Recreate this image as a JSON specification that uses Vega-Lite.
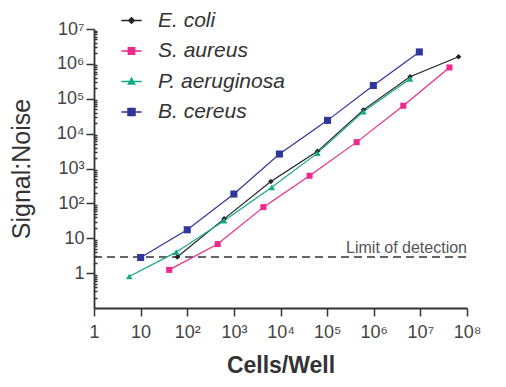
{
  "$schema": "https://vega.github.io/schema/vega-lite/v6.json",
  "width": 373,
  "height": 279,
  "autosize": {"type": "none"},
  "padding": {"left": 94, "top": 29, "right": 39, "bottom": 79},
  "background": "white",
  "config": {
    "view": {"stroke": null},
    "font": "Liberation Sans",
    "axis": {"grid": false},
    "axisX": {
      "titleFont": "Liberation Sans", "titleFontSize": 23, "titleFontWeight": "bold", "titleColor": "#333333", "titlePadding": 13,
      "labelFont": "Liberation Sans", "labelFontSize": 18, "labelColor": "#444444", "labelPadding": 7, "labelFlush": false, "labelOverlap": false,
      "tickSize": 8, "tickColor": "#333333", "tickWidth": 1.5,
      "domainColor": "#333333", "domainWidth": 1.8
    },
    "axisY": {
      "titleFont": "Liberation Sans", "titleFontSize": 25, "titleFontWeight": "normal", "titleColor": "#333333", "titlePadding": 22,
      "labelFont": "Liberation Sans", "labelFontSize": 18, "labelColor": "#444444", "labelPadding": 2, "labelFlush": false, "labelOverlap": false,
      "tickColor": "#333333", "tickWidth": 1.5,
      "domainColor": "#333333", "domainWidth": 1.8
    }
  },
  "datasets": {
    "main": [
      {"series": "E. coli", "cells": 61, "sn": 2.9},
      {"series": "E. coli", "cells": 617, "sn": 36},
      {"series": "E. coli", "cells": 6200, "sn": 425},
      {"series": "E. coli", "cells": 62000, "sn": 3100},
      {"series": "E. coli", "cells": 600000, "sn": 48000},
      {"series": "E. coli", "cells": 6000000, "sn": 430000},
      {"series": "E. coli", "cells": 66000000, "sn": 1600000},
      {"series": "S. aureus", "cells": 41, "sn": 1.24},
      {"series": "S. aureus", "cells": 450, "sn": 6.8},
      {"series": "S. aureus", "cells": 4300, "sn": 78},
      {"series": "S. aureus", "cells": 42000, "sn": 620},
      {"series": "S. aureus", "cells": 430000, "sn": 5700},
      {"series": "S. aureus", "cells": 4300000, "sn": 63000},
      {"series": "S. aureus", "cells": 42000000, "sn": 790000},
      {"series": "P. aeruginosa", "cells": 5.7, "sn": 0.8},
      {"series": "P. aeruginosa", "cells": 58, "sn": 4.0},
      {"series": "P. aeruginosa", "cells": 617, "sn": 32},
      {"series": "P. aeruginosa", "cells": 6500, "sn": 288},
      {"series": "P. aeruginosa", "cells": 62000, "sn": 2760},
      {"series": "P. aeruginosa", "cells": 600000, "sn": 43000},
      {"series": "P. aeruginosa", "cells": 6000000, "sn": 370000},
      {"series": "B. cereus", "cells": 10, "sn": 2.8},
      {"series": "B. cereus", "cells": 100, "sn": 17.5},
      {"series": "B. cereus", "cells": 1000, "sn": 185},
      {"series": "B. cereus", "cells": 9500, "sn": 2600},
      {"series": "B. cereus", "cells": 102000, "sn": 24000},
      {"series": "B. cereus", "cells": 980000, "sn": 240000},
      {"series": "B. cereus", "cells": 9500000, "sn": 2200000}
    ],
    "limit": [
      {"cells": 1, "cells_end": 100000000, "sn": 2.9, "label": "Limit of detection"}
    ]
  },
  "layer": [
    {
      "data": {"name": "limit"},
      "mark": {"type": "rule", "color": "#333333", "strokeWidth": 1.5, "strokeDash": [8, 5]},
      "encoding": {
        "x": {
          "field": "cells", "type": "quantitative",
          "scale": {"type": "log", "domain": [1, 100000000], "nice": false},
          "axis": {
            "values": [1, 10, 100, 1000, 10000, 100000, 1000000, 10000000, 100000000],
            "labelExpr": "datum.value < 2 ? '1' : datum.value < 20 ? '10' : '10' + ['','','²','³','⁴','⁵','⁶','⁷','⁸'][round(log(datum.value)/LN10)]",
            "title": "Cells/Well"
          }
        },
        "x2": {"field": "cells_end"},
        "y": {
          "field": "sn", "type": "quantitative",
          "scale": {"type": "log", "domain": [0.1, 10000000], "nice": false},
          "axis": {
            "values": [1, 10, 100, 1000, 10000, 100000, 1000000, 10000000, 0.2, 0.3, 0.4, 0.5, 0.6, 0.7, 0.8, 0.9, 2, 3, 4, 5, 6, 7, 8, 9, 20, 30, 40, 50, 60, 70, 80, 90, 200, 300, 400, 500, 600, 700, 800, 900, 2000, 3000, 4000, 5000, 6000, 7000, 8000, 9000, 20000, 30000, 40000, 50000, 60000, 70000, 80000, 90000, 200000, 300000, 400000, 500000, 600000, 700000, 800000, 900000, 2000000, 3000000, 4000000, 5000000, 6000000, 7000000, 8000000, 9000000],
            "labelExpr": "abs(log(datum.value)/LN10 - round(log(datum.value)/LN10)) > 0.01 ? '' : datum.value < 2 ? '1' : datum.value < 20 ? '10' : '10' + ['','','²','³','⁴','⁵','⁶','⁷','⁸'][round(log(datum.value)/LN10)]",
            "title": "Signal:Noise",
            "tickSize": {"condition": {"test": "abs(log(datum.value)/LN10 - round(log(datum.value)/LN10)) > 0.01", "value": -3}, "value": 8}
          }
        }
      }
    },
    {
      "data": {"name": "limit"},
      "mark": {"type": "text", "align": "right", "baseline": "alphabetic", "dy": -4, "font": "Liberation Sans", "fontSize": 16, "color": "#555555"},
      "encoding": {
        "x": {
          "field": "cells_end", "type": "quantitative",
          "scale": {"type": "log", "domain": [1, 100000000], "nice": false},
          "axis": {
            "values": [1, 10, 100, 1000, 10000, 100000, 1000000, 10000000, 100000000],
            "labelExpr": "datum.value < 2 ? '1' : datum.value < 20 ? '10' : '10' + ['','','²','³','⁴','⁵','⁶','⁷','⁸'][round(log(datum.value)/LN10)]",
            "title": "Cells/Well"
          }
        },
        "y": {
          "field": "sn", "type": "quantitative",
          "scale": {"type": "log", "domain": [0.1, 10000000], "nice": false},
          "axis": {
            "values": [1, 10, 100, 1000, 10000, 100000, 1000000, 10000000, 0.2, 0.3, 0.4, 0.5, 0.6, 0.7, 0.8, 0.9, 2, 3, 4, 5, 6, 7, 8, 9, 20, 30, 40, 50, 60, 70, 80, 90, 200, 300, 400, 500, 600, 700, 800, 900, 2000, 3000, 4000, 5000, 6000, 7000, 8000, 9000, 20000, 30000, 40000, 50000, 60000, 70000, 80000, 90000, 200000, 300000, 400000, 500000, 600000, 700000, 800000, 900000, 2000000, 3000000, 4000000, 5000000, 6000000, 7000000, 8000000, 9000000],
            "labelExpr": "abs(log(datum.value)/LN10 - round(log(datum.value)/LN10)) > 0.01 ? '' : datum.value < 2 ? '1' : datum.value < 20 ? '10' : '10' + ['','','²','³','⁴','⁵','⁶','⁷','⁸'][round(log(datum.value)/LN10)]",
            "title": "Signal:Noise",
            "tickSize": {"condition": {"test": "abs(log(datum.value)/LN10 - round(log(datum.value)/LN10)) > 0.01", "value": -3}, "value": 8}
          }
        },
        "text": {"field": "label"}
      }
    },
    {
      "data": {"name": "main"},
      "mark": {"type": "line", "strokeWidth": 1.2},
      "encoding": {
        "x": {
          "field": "cells", "type": "quantitative",
          "scale": {"type": "log", "domain": [1, 100000000], "nice": false},
          "axis": {
            "values": [1, 10, 100, 1000, 10000, 100000, 1000000, 10000000, 100000000],
            "labelExpr": "datum.value < 2 ? '1' : datum.value < 20 ? '10' : '10' + ['','','²','³','⁴','⁵','⁶','⁷','⁸'][round(log(datum.value)/LN10)]",
            "title": "Cells/Well"
          }
        },
        "y": {
          "field": "sn", "type": "quantitative",
          "scale": {"type": "log", "domain": [0.1, 10000000], "nice": false},
          "axis": {
            "values": [1, 10, 100, 1000, 10000, 100000, 1000000, 10000000, 0.2, 0.3, 0.4, 0.5, 0.6, 0.7, 0.8, 0.9, 2, 3, 4, 5, 6, 7, 8, 9, 20, 30, 40, 50, 60, 70, 80, 90, 200, 300, 400, 500, 600, 700, 800, 900, 2000, 3000, 4000, 5000, 6000, 7000, 8000, 9000, 20000, 30000, 40000, 50000, 60000, 70000, 80000, 90000, 200000, 300000, 400000, 500000, 600000, 700000, 800000, 900000, 2000000, 3000000, 4000000, 5000000, 6000000, 7000000, 8000000, 9000000],
            "labelExpr": "abs(log(datum.value)/LN10 - round(log(datum.value)/LN10)) > 0.01 ? '' : datum.value < 2 ? '1' : datum.value < 20 ? '10' : '10' + ['','','²','³','⁴','⁵','⁶','⁷','⁸'][round(log(datum.value)/LN10)]",
            "title": "Signal:Noise",
            "tickSize": {"condition": {"test": "abs(log(datum.value)/LN10 - round(log(datum.value)/LN10)) > 0.01", "value": -3}, "value": 8}
          }
        },
        "color": {
          "field": "series", "type": "nominal",
          "scale": {"domain": ["E. coli", "S. aureus", "P. aeruginosa", "B. cereus"], "range": ["#222222", "#ec2a8e", "#14a886", "#30369a"]},
          "legend": null
        },
        "detail": {"field": "series"}
      }
    },
    {
      "data": {"name": "main"},
      "mark": {"type": "point", "filled": true, "opacity": 1},
      "encoding": {
        "x": {
          "field": "cells", "type": "quantitative",
          "scale": {"type": "log", "domain": [1, 100000000], "nice": false},
          "axis": {
            "values": [1, 10, 100, 1000, 10000, 100000, 1000000, 10000000, 100000000],
            "labelExpr": "datum.value < 2 ? '1' : datum.value < 20 ? '10' : '10' + ['','','²','³','⁴','⁵','⁶','⁷','⁸'][round(log(datum.value)/LN10)]",
            "title": "Cells/Well"
          }
        },
        "y": {
          "field": "sn", "type": "quantitative",
          "scale": {"type": "log", "domain": [0.1, 10000000], "nice": false},
          "axis": {
            "values": [1, 10, 100, 1000, 10000, 100000, 1000000, 10000000, 0.2, 0.3, 0.4, 0.5, 0.6, 0.7, 0.8, 0.9, 2, 3, 4, 5, 6, 7, 8, 9, 20, 30, 40, 50, 60, 70, 80, 90, 200, 300, 400, 500, 600, 700, 800, 900, 2000, 3000, 4000, 5000, 6000, 7000, 8000, 9000, 20000, 30000, 40000, 50000, 60000, 70000, 80000, 90000, 200000, 300000, 400000, 500000, 600000, 700000, 800000, 900000, 2000000, 3000000, 4000000, 5000000, 6000000, 7000000, 8000000, 9000000],
            "labelExpr": "abs(log(datum.value)/LN10 - round(log(datum.value)/LN10)) > 0.01 ? '' : datum.value < 2 ? '1' : datum.value < 20 ? '10' : '10' + ['','','²','³','⁴','⁵','⁶','⁷','⁸'][round(log(datum.value)/LN10)]",
            "title": "Signal:Noise",
            "tickSize": {"condition": {"test": "abs(log(datum.value)/LN10 - round(log(datum.value)/LN10)) > 0.01", "value": -3}, "value": 8}
          }
        },
        "color": {
          "field": "series", "type": "nominal",
          "scale": {"domain": ["E. coli", "S. aureus", "P. aeruginosa", "B. cereus"], "range": ["#222222", "#ec2a8e", "#14a886", "#30369a"]},
          "legend": null
        },
        "shape": {
          "field": "series", "type": "nominal",
          "scale": {"domain": ["E. coli", "S. aureus", "P. aeruginosa", "B. cereus"], "range": ["diamond", "square", "triangle-up", "square"]},
          "legend": null
        },
        "size": {
          "field": "series", "type": "nominal",
          "scale": {"domain": ["E. coli", "S. aureus", "P. aeruginosa", "B. cereus"], "range": [30, 50, 50, 64]},
          "legend": null
        }
      }
    },
    {
      "data": {"name": "main"},
      "mark": {"type": "point", "opacity": 0, "strokeWidth": 1.5},
      "encoding": {
        "x": {
          "field": "cells", "type": "quantitative",
          "scale": {"type": "log", "domain": [1, 100000000], "nice": false},
          "axis": {
            "values": [1, 10, 100, 1000, 10000, 100000, 1000000, 10000000, 100000000],
            "labelExpr": "datum.value < 2 ? '1' : datum.value < 20 ? '10' : '10' + ['','','²','³','⁴','⁵','⁶','⁷','⁸'][round(log(datum.value)/LN10)]",
            "title": "Cells/Well"
          }
        },
        "y": {
          "field": "sn", "type": "quantitative",
          "scale": {"type": "log", "domain": [0.1, 10000000], "nice": false},
          "axis": {
            "values": [1, 10, 100, 1000, 10000, 100000, 1000000, 10000000, 0.2, 0.3, 0.4, 0.5, 0.6, 0.7, 0.8, 0.9, 2, 3, 4, 5, 6, 7, 8, 9, 20, 30, 40, 50, 60, 70, 80, 90, 200, 300, 400, 500, 600, 700, 800, 900, 2000, 3000, 4000, 5000, 6000, 7000, 8000, 9000, 20000, 30000, 40000, 50000, 60000, 70000, 80000, 90000, 200000, 300000, 400000, 500000, 600000, 700000, 800000, 900000, 2000000, 3000000, 4000000, 5000000, 6000000, 7000000, 8000000, 9000000],
            "labelExpr": "abs(log(datum.value)/LN10 - round(log(datum.value)/LN10)) > 0.01 ? '' : datum.value < 2 ? '1' : datum.value < 20 ? '10' : '10' + ['','','²','³','⁴','⁵','⁶','⁷','⁸'][round(log(datum.value)/LN10)]",
            "title": "Signal:Noise",
            "tickSize": {"condition": {"test": "abs(log(datum.value)/LN10 - round(log(datum.value)/LN10)) > 0.01", "value": -3}, "value": 8}
          }
        },
        "fill": {
          "field": "series", "type": "nominal",
          "scale": {"domain": ["E. coli", "S. aureus", "P. aeruginosa", "B. cereus"], "range": ["#222222", "#ec2a8e", "#14a886", "#30369a"]},
          "legend": {
            "orient": "none", "legendX": 27, "legendY": -19, "title": null, "padding": 0,
            "labelFont": "Liberation Sans", "labelFontSize": 21, "labelFontStyle": "italic", "labelColor": "#333333",
            "symbolSize": 49, "symbolStrokeWidth": 1.5, "rowPadding": 8.5, "labelOffset": 16, "symbolOpacity": 1
          }
        },
        "stroke": {
          "field": "series", "type": "nominal",
          "scale": {"domain": ["E. coli", "S. aureus", "P. aeruginosa", "B. cereus"], "range": ["#222222", "#ec2a8e", "#14a886", "#30369a"]},
          "legend": {
            "orient": "none", "legendX": 27, "legendY": -19, "title": null, "padding": 0,
            "labelFont": "Liberation Sans", "labelFontSize": 21, "labelFontStyle": "italic", "labelColor": "#333333",
            "symbolSize": 49, "symbolStrokeWidth": 1.5, "rowPadding": 8.5, "labelOffset": 16, "symbolOpacity": 1
          }
        },
        "shape": {
          "field": "series", "type": "nominal",
          "scale": {
            "domain": ["E. coli", "S. aureus", "P. aeruginosa", "B. cereus"],
            "range": [
              "M-2.9,0H2.9M0,-0.8L0.8,0L0,0.8L-0.8,0Z",
              "M-2.9,0H2.9M-0.9,-0.9H0.9V0.9H-0.9Z",
              "M-2.9,0H2.9M0,-0.9L0.9,0.7H-0.9Z",
              "M-2.9,0H2.9M-1,-1H1V1H-1Z"
            ]
          },
          "legend": {
            "orient": "none", "legendX": 27, "legendY": -19, "title": null, "padding": 0,
            "labelFont": "Liberation Sans", "labelFontSize": 21, "labelFontStyle": "italic", "labelColor": "#333333",
            "symbolSize": 49, "symbolStrokeWidth": 1.5, "rowPadding": 8.5, "labelOffset": 16, "symbolOpacity": 1
          }
        }
      }
    }
  ],
  "resolve": {"scale": {"shape": "independent", "fill": "independent", "stroke": "independent"}}
}
